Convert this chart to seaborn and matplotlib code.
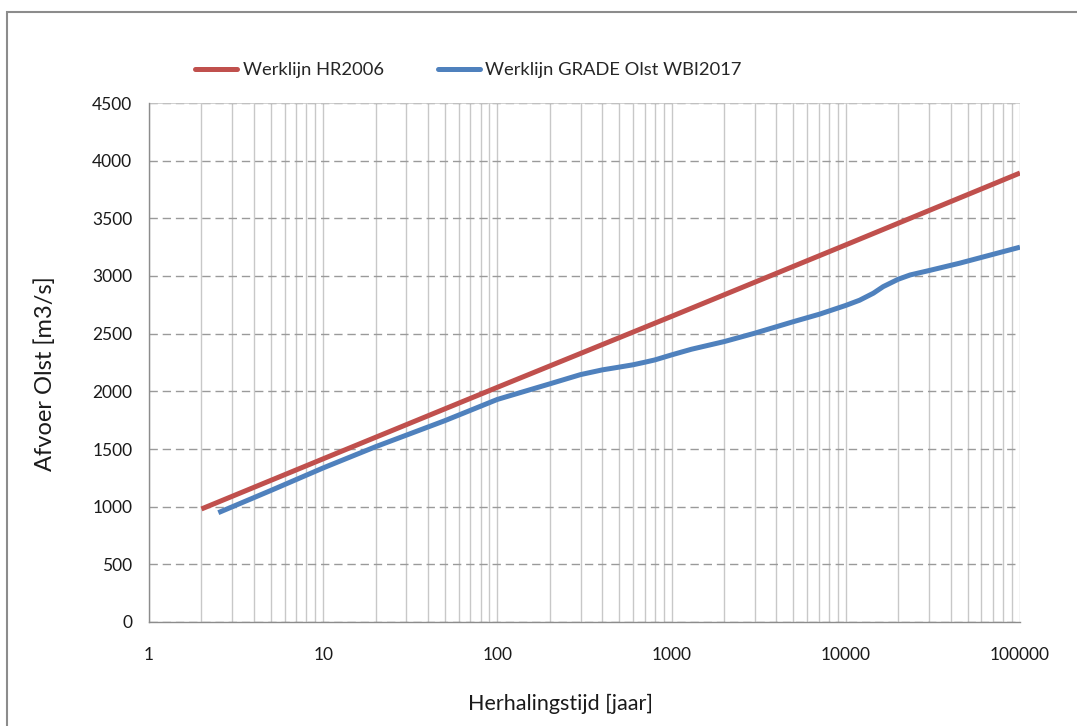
import numpy as np
import pandas as pd
import matplotlib
matplotlib.use("Agg")
import matplotlib.pyplot as plt
import seaborn as sns
from matplotlib.patches import Rectangle
from matplotlib.ticker import LogLocator, FixedLocator, NullFormatter

# Return period (years) and discharge (m3/s) for both design lines
hr2006_T = [2, 10, 100, 1000, 10000, 100000]
hr2006_Q = [980, 1415, 2035, 2650, 3270, 3893]

wbi2017_T = [2.5, 5, 10, 20, 50, 100, 200, 300, 400, 500, 600, 700, 800,
             1000, 1300, 2000, 3000, 5000, 7100, 10000, 12000, 14400, 16400,
             20000, 23400, 30000, 45000, 100000]
wbi2017_Q = [948, 1140, 1336, 1520, 1746, 1930, 2065, 2145, 2186, 2210,
             2230, 2252, 2272, 2316, 2365, 2431, 2504, 2604, 2670, 2745, 2790,
             2851, 2908, 2972, 3009, 3047, 3111, 3250]

series_names = ["Werklijn HR2006", "Werklijn GRADE Olst WBI2017"]
series_colors = ["#C0504D", "#4F81BD"]

y_ticks = [0, 500, 1000, 1500, 2000, 2500, 3000, 3500, 4000, 4500]
x_ticks = [1, 10, 100, 1000, 10000, 100000]
x_tick_labels = ["1", "10", "100", "1000", "10000", "100000"]

df = pd.concat([
    pd.DataFrame({"T": hr2006_T, "Q": hr2006_Q, "serie": series_names[0]}),
    pd.DataFrame({"T": wbi2017_T, "Q": wbi2017_Q, "serie": series_names[1]}),
])

sns.set_theme(style="white")
plt.rcParams["font.family"] = ["Lato", "DejaVu Sans"]

fig = plt.figure(figsize=(10.77, 7.26), dpi=100)
ax = fig.add_axes([149 / 1077, 1 - 622 / 726, (1020 - 149) / 1077, (622 - 103) / 726])

# Outer chart frame
fig.patches.append(Rectangle((7 / 1077, -0.05), 1.1, 1 - 12 / 726 + 0.05,
                             transform=fig.transFigure, fill=False,
                             edgecolor="#8c8c8c", linewidth=1.5, zorder=0))

sns.lineplot(data=df, x="T", y="Q", hue="serie", palette=series_colors,
             linewidth=3.6, ax=ax, legend=False, sort=True)
for line in ax.lines:
    line.set_solid_capstyle("butt")
    line.set_solid_joinstyle("round")

ax.set_xscale("log")
ax.set_xlim(1, 100000)
ax.set_ylim(0, 4500)

# Vertical grid: every decade and every intermediate integer
ax.xaxis.set_major_locator(FixedLocator(x_ticks))
ax.xaxis.set_minor_locator(LogLocator(base=10, subs=np.arange(2, 10), numticks=20))
ax.xaxis.set_minor_formatter(NullFormatter())
ax.set_xticklabels(x_tick_labels)
ax.grid(which="both", axis="x", color="#c8c8c8", linewidth=1.0, linestyle="-")
ax.tick_params(axis="x", which="minor", length=0)

# Horizontal dashed grid
ax.set_yticks(y_ticks)
ax.grid(which="major", axis="y", color="#9a9a9a", linewidth=1.0,
        linestyle=(0, (6, 3.5)))
ax.axhline(4500, color="#c8c8c8", linewidth=1.2, zorder=1)

ax.set_axisbelow(True)
for side in ["top", "right"]:
    ax.spines[side].set_visible(False)
for side in ["left", "bottom"]:
    ax.spines[side].set_color("#8c8c8c")
    ax.spines[side].set_linewidth(1.0)

ax.tick_params(axis="both", which="major", direction="out", color="#8c8c8c",
               width=1.0, labelsize=12.5, labelcolor="#1a1a1a")
ax.tick_params(axis="y", length=6, pad=6)
ax.tick_params(axis="x", length=8, pad=10)

ax.set_xlabel("Herhalingstijd [jaar]", fontsize=15.5, color="#1a1a1a", va="center")
ax.xaxis.set_label_coords(0.472, -0.158)
ax.set_ylabel("Afvoer Olst [m3/s]", fontsize=17, color="#1a1a1a", va="center")
ax.yaxis.set_label_coords(-0.1194, 0.478)

handles = [plt.Line2D([], [], color=c, linewidth=3.6) for c in series_colors]
fig.legend(handles, series_names, loc="center", bbox_to_anchor=(0.435, 1 - 70 / 726),
           ncol=2, frameon=False, fontsize=13.2, handlelength=2.3,
           handletextpad=0.3, columnspacing=2.95)

fig.savefig("out.png", dpi=100)
